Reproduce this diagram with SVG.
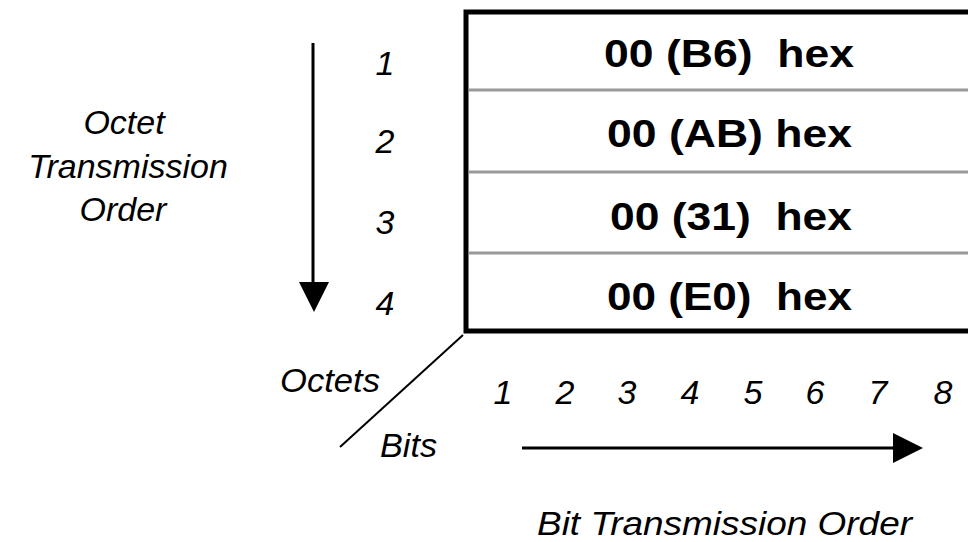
<svg xmlns="http://www.w3.org/2000/svg" width="968" height="542" viewBox="0 0 968 542">
  <style>
    .hex { font-family: "Liberation Sans", Arial, sans-serif; font-weight: bold; font-size: 38px; fill: #000; }
    .it { font-family: "Liberation Sans", Arial, sans-serif; font-style: italic; font-size: 34px; fill: #000; }
    .sep { stroke: #999; stroke-width: 3; }
    .ln { stroke: #000; stroke-width: 3; fill: none; }
  </style>
  <rect width="968" height="542" fill="#fff"/>

  <g id="octet-table">
    <rect x="466" y="12" width="530" height="319" fill="#fff" stroke="#000" stroke-width="5"/>
    <line class="sep" x1="469" y1="90" x2="968" y2="90"/>
    <line class="sep" x1="469" y1="172" x2="968" y2="172"/>
    <line class="sep" x1="469" y1="253" x2="968" y2="253"/>
  </g>
  <g id="row1"><text class="hex" x="604" y="67" textLength="250" lengthAdjust="spacingAndGlyphs" xml:space="preserve">00 (B6)  hex</text></g>
  <g id="row2"><text class="hex" x="607" y="147" textLength="245" lengthAdjust="spacingAndGlyphs">00 (AB) hex</text></g>
  <g id="row3"><text class="hex" x="610" y="230" textLength="242" lengthAdjust="spacingAndGlyphs" xml:space="preserve">00 (31)  hex</text></g>
  <g id="row4"><text class="hex" x="607" y="310" textLength="245" lengthAdjust="spacingAndGlyphs" xml:space="preserve">00 (E0)  hex</text></g>

  <g id="octet-numbers" class="it" text-anchor="middle">
    <text x="385" y="75">1</text>
    <text x="385" y="153">2</text>
    <text x="385" y="234">3</text>
    <text x="385" y="315">4</text>
  </g>

  <g id="bit-numbers" class="it" text-anchor="middle">
    <text x="503" y="404">1</text>
    <text x="565" y="404">2</text>
    <text x="627" y="404">3</text>
    <text x="690" y="404">4</text>
    <text x="753" y="404">5</text>
    <text x="815" y="404">6</text>
    <text x="878" y="404">7</text>
    <text x="943" y="404">8</text>
  </g>

  <g id="octet-order-label" class="it" text-anchor="middle">
    <text x="124" y="134">Octet</text>
    <text x="128" y="178">Transmission</text>
    <text x="123" y="221">Order</text>
  </g>

  <g id="corner-labels" class="it">
    <text x="280" y="392" textLength="100" lengthAdjust="spacingAndGlyphs">Octets</text>
    <text x="380" y="457" textLength="57" lengthAdjust="spacingAndGlyphs">Bits</text>
  </g>

  <g id="bit-order-label" class="it">
    <text x="537" y="535" textLength="375" lengthAdjust="spacingAndGlyphs">Bit Transmission Order</text>
  </g>

  <g id="connectors">
    <line class="ln" x1="313" y1="43" x2="313" y2="285"/>
    <polygon points="299,282 329,282 314,312" fill="#000"/>
    <line class="ln" x1="522" y1="448" x2="896" y2="448"/>
    <polygon points="893,433 923,448 893,463" fill="#000"/>
    <line stroke="#000" stroke-width="2" x1="340" y1="447" x2="463" y2="335"/>
  </g>
</svg>
